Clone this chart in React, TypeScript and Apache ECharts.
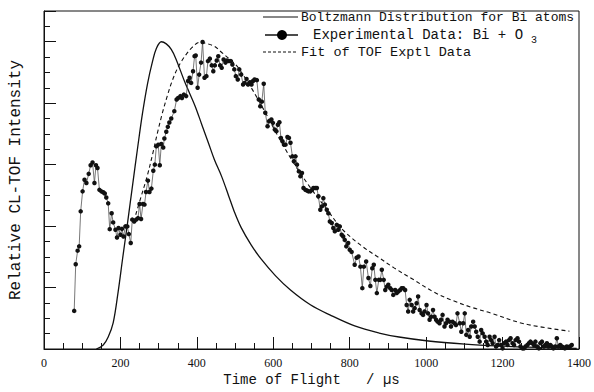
import React, { useEffect, useRef } from "react";
import * as echarts from "echarts";

// ---- data ----
const xTickLabels = ["0", "200", "400", "600", "800", "1000", "1200", "1400"];

const legendLabels = [
  "Boltzmann Distribution for Bi atoms",
  "Experimental Data: Bi + O",
  "Fit of TOF Exptl Data",
];
const legendSub = "3";
const xTitle = "Time of Flight   / µs";
const yTitle = "Relative CL-TOF Intensity";

const expTime = [
  79, 83, 88, 92, 96, 101, 106, 111, 117, 122, 127, 132, 136, 140, 145, 150, 155, 159, 163, 168,
  172, 177, 181, 187, 191, 195, 200, 204, 208, 213, 218, 222, 227, 231, 236, 241, 246, 250, 254, 259,
  263, 267, 272, 276, 281, 286, 290, 294, 299, 303, 307, 312, 315, 320, 324, 328, 333,
  341, 347, 351, 357, 361, 366, 372, 377, 381, 385, 390, 394, 397, 402, 406, 411, 415, 420, 425, 429,
  434, 439, 443, 447, 452, 456, 461, 465, 470, 475, 479, 484, 489, 493, 498, 502, 507, 511, 516, 521,
  525, 530, 534, 539, 543, 547, 551, 557, 562, 566, 570, 575, 579,
  585, 589, 595, 599, 604, 608, 612, 616, 620, 624, 628, 632, 637, 641, 645, 650, 654, 658, 662, 667,
  671, 675, 679, 684, 688, 692, 697, 701, 705, 710, 714, 718, 723, 727, 731, 735, 740, 744, 748, 753,
  757, 761, 766, 770, 774, 779, 783, 787, 791, 796, 800, 805,
  813, 818, 823, 828, 833, 837, 843, 849, 854, 859, 863, 867, 871, 876, 880, 884, 889, 893, 897, 901,
  906, 910, 914, 919, 923, 927, 932, 936, 940, 945, 949, 953, 957, 962, 966, 970, 975, 979, 983, 988,
  992, 996, 1001, 1005, 1009, 1013, 1018, 1022, 1026, 1030, 1035, 1039, 1043, 1048, 1052, 1056, 1061,
  1065, 1069, 1074, 1078, 1082,
  1088, 1092, 1097, 1101, 1105, 1110, 1114, 1118, 1123, 1127, 1131, 1135, 1140, 1144, 1148, 1153, 1157,
  1161, 1166, 1170, 1174, 1179, 1183, 1187, 1191, 1196, 1200, 1204, 1209, 1213, 1217, 1221, 1226, 1230,
  1234, 1239, 1243, 1247, 1252, 1256, 1260, 1265, 1269, 1273, 1277, 1282, 1286, 1290, 1295, 1299, 1303,
  1308, 1312, 1316, 1320, 1325, 1329, 1333, 1338, 1342, 1346, 1351, 1355, 1359, 1363, 1368, 1372, 1376,
  1381,
];

const expSignal = [
  0.124, 0.276, 0.32, 0.334, 0.448, 0.513, 0.551, 0.54, 0.57, 0.598, 0.607, 0.54, 0.598, 0.589, 0.518,
  0.513, 0.51, 0.506, 0.493, 0.474, 0.39, 0.442, 0.412, 0.388, 0.363, 0.394, 0.372, 0.391, 0.366, 0.399,
  0.399, 0.374, 0.345, 0.421, 0.415, 0.421, 0.426, 0.472, 0.423, 0.472, 0.47, 0.511, 0.548, 0.511, 0.522,
  0.58, 0.6, 0.66, 0.665, 0.598, 0.667, 0.656, 0.685, 0.707, 0.723, 0.737, 0.75,
  0.774, 0.812, 0.817, 0.823, 0.817, 0.828, 0.823, 0.872, 0.883, 0.866, 0.904, 0.953, 0.955, 0.85, 0.893,
  0.932, 0.999, 0.883, 0.888, 0.937, 0.945, 0.923, 0.904, 0.923, 0.939, 0.953, 0.923, 0.915, 0.942, 0.932,
  0.939, 0.937, 0.937, 0.926, 0.91, 0.888, 0.877, 0.91, 0.893, 0.861, 0.866, 0.879, 0.861, 0.868, 0.861,
  0.872, 0.877, 0.875, 0.812, 0.79, 0.805, 0.863, 0.769,
  0.725, 0.741, 0.747, 0.736, 0.714, 0.709, 0.73, 0.738, 0.687, 0.676, 0.665, 0.665, 0.69, 0.687, 0.671,
  0.627, 0.611, 0.627, 0.6, 0.578, 0.562, 0.573, 0.524, 0.518, 0.516, 0.513, 0.513, 0.518, 0.524, 0.524,
  0.524, 0.497, 0.453, 0.464, 0.491, 0.47, 0.453, 0.442, 0.415, 0.41, 0.394, 0.383, 0.404, 0.388, 0.399,
  0.372, 0.366, 0.355, 0.334, 0.345, 0.323, 0.316,
  0.274, 0.297, 0.301, 0.268, 0.198, 0.268, 0.285, 0.231, 0.205, 0.263, 0.274, 0.225, 0.182, 0.225, 0.225,
  0.258, 0.225, 0.192, 0.203, 0.209, 0.198, 0.192, 0.176, 0.192, 0.182, 0.187, 0.192, 0.198, 0.198, 0.192,
  0.143, 0.122, 0.16, 0.143, 0.122, 0.133, 0.149, 0.171, 0.127, 0.116, 0.111, 0.122, 0.143, 0.116, 0.095,
  0.105, 0.127, 0.105, 0.095, 0.089, 0.084, 0.095, 0.111, 0.073, 0.084, 0.095, 0.089, 0.073, 0.089, 0.084,
  0.078, 0.116,
  0.084, 0.056, 0.084, 0.116, 0.046, 0.062, 0.04, 0.073, 0.089, 0.073, 0.056, 0.04, 0.024, 0.062, 0.051,
  0.04, 0.024, 0.013, 0.04, 0.029, 0.019, 0.04, 0.008, 0.013, 0.029, 0.013, 0.002, 0.019, 0.024, 0.013,
  0.029, 0.035, 0.019, 0.013, 0.029, 0.035, 0.024, 0.008, 0.002, 0.002, 0.008, 0.013, 0.019, 0.024, 0.019,
  0.013, 0.024, 0.008, 0.002, 0.019, 0.024, 0.008, 0.013, 0.019, 0.008, 0.013, 0.008, 0.002, 0.008, 0.035,
  0.008, 0.013, 0.008, 0.006, 0.002, 0.008, 0.006, 0.008, 0.013,
];

const boltzTime = [
  137, 155, 168, 181, 194, 206, 219, 232, 245, 258, 271, 284, 294, 307, 320, 333, 345, 369, 395, 413,
  431, 446, 465, 483, 498, 516, 542, 568, 606, 645, 697, 748, 813, 877, 929, 1006, 1102, 1187, 1290, 1394,
];
const boltzSignal = [
  0, 0.013, 0.039, 0.085, 0.186, 0.297, 0.414, 0.535, 0.655, 0.769, 0.864, 0.936, 0.978, 1.0, 0.993,
  0.975, 0.945, 0.867, 0.792, 0.73, 0.668, 0.616, 0.561, 0.499, 0.447, 0.395, 0.339, 0.293, 0.238,
  0.192, 0.144, 0.111, 0.075, 0.052, 0.039, 0.026, 0.016, 0.01, 0.005, 0.002,
];

const fitTime = [
  240, 258, 271, 284, 297, 310, 323, 335, 348, 361, 374, 387, 408, 426, 446, 465, 490, 508, 542, 575,
  612, 653, 697, 741, 782, 834, 877, 916, 968, 1019, 1071, 1123, 1169, 1257, 1375,
];
const fitSignal = [
  0.437, 0.512, 0.567, 0.633, 0.704, 0.769, 0.825, 0.871, 0.91, 0.939, 0.962, 0.981, 0.998, 0.994,
  0.985, 0.965, 0.939, 0.916, 0.851, 0.779, 0.694, 0.606, 0.525, 0.453, 0.388, 0.333, 0.297, 0.264,
  0.225, 0.186, 0.157, 0.134, 0.117, 0.082, 0.058,
];

const zip = (a: number[], b: number[]) => a.map((t, i) => [t, b[i]]);

export default function App() {
  const ref = useRef<HTMLDivElement>(null);

  useEffect(() => {
    if (!ref.current) return;
    const chart = echarts.init(ref.current, null, { renderer: "svg" });
    const ink = "#111";
    const mono = "'Liberation Mono', 'DejaVu Sans Mono', monospace";
    const serif = "'Liberation Serif', 'DejaVu Serif', serif";

    chart.setOption({
      animation: false,
      backgroundColor: "#ffffff",
      grid: {
        left: 40,
        right: 13,
        top: 11,
        bottom: 43,
        show: true,
        borderColor: ink,
        borderWidth: 1,
        backgroundColor: "transparent",
      },
      xAxis: [
        {
          type: "value",
          position: "bottom",
          min: 0,
          max: 1400,
          interval: 50,
          axisLine: { show: true, lineStyle: { color: ink, width: 1 } },
          axisTick: { show: true, inside: true, length: 6, lineStyle: { color: ink, width: 1 } },
          axisLabel: { show: false },
          splitLine: { show: false },
          name: xTitle,
          nameLocation: "middle",
          nameGap: 24,
          nameTextStyle: { fontFamily: mono, fontSize: 14, color: ink },
        },
        {
          type: "value",
          position: "bottom",
          min: 0,
          max: 1400,
          interval: 200,
          axisLine: { show: false },
          axisTick: { show: true, inside: true, length: 12, lineStyle: { color: ink, width: 1 } },
          axisLabel: {
            show: true,
            margin: 8,
            fontFamily: serif,
            fontSize: 12,
            color: ink,
            formatter: (v: number) => xTickLabels[Math.round(v / 200)] ?? "",
          },
          splitLine: { show: false },
        },
      ],
      yAxis: [
        {
          type: "value",
          position: "left",
          min: 0,
          max: 1.1,
          interval: 0.05,
          axisLine: { show: true, lineStyle: { color: ink, width: 1 } },
          axisTick: { show: true, inside: true, length: 6, lineStyle: { color: ink, width: 1 } },
          axisLabel: { show: false },
          splitLine: { show: false },
          name: yTitle,
          nameLocation: "middle",
          nameGap: 20,
          nameRotate: 90,
          nameTextStyle: { fontFamily: mono, fontSize: 16, color: ink },
        },
        {
          type: "value",
          position: "left",
          min: 0,
          max: 1.1,
          interval: 0.2,
          axisLine: { show: false },
          axisTick: { show: true, inside: true, length: 12, lineStyle: { color: ink, width: 1 } },
          axisLabel: { show: false },
          splitLine: { show: false },
        },
      ],
      series: [
        {
          name: legendLabels[0],
          type: "line",
          data: zip(boltzTime, boltzSignal),
          xAxisIndex: 0,
          yAxisIndex: 0,
          showSymbol: false,
          smooth: 0.35,
          lineStyle: { color: ink, width: 1.3 },
          z: 3,
        },
        {
          name: legendLabels[2],
          type: "line",
          data: zip(fitTime, fitSignal),
          xAxisIndex: 0,
          yAxisIndex: 0,
          showSymbol: false,
          smooth: 0.35,
          lineStyle: { color: ink, width: 1.1, type: [4, 3] },
          z: 3,
        },
        {
          name: legendLabels[1],
          type: "line",
          data: zip(expTime, expSignal),
          xAxisIndex: 0,
          yAxisIndex: 0,
          symbol: "circle",
          symbolSize: 4.5,
          showAllSymbol: true,
          itemStyle: { color: "#111" },
          lineStyle: { color: "#555", width: 0.8 },
          z: 4,
        },
      ],
      graphic: [
        { type: "line", shape: { x1: 263, y1: 17, x2: 298, y2: 17 }, style: { stroke: ink, lineWidth: 1.2 } },
        {
          type: "text",
          x: 301,
          y: 17,
          style: { text: legendLabels[0], font: `13px ${mono}`, fill: ink, verticalAlign: "middle" },
        },
        { type: "line", shape: { x1: 265, y1: 35, x2: 298, y2: 35 }, style: { stroke: ink, lineWidth: 1.6 } },
        { type: "circle", shape: { cx: 282, cy: 35, r: 5 }, style: { fill: "#000" } },
        {
          type: "text",
          x: 313,
          y: 35,
          style: { text: legendLabels[1], font: `14px ${mono}`, fill: ink, verticalAlign: "middle" },
        },
        {
          type: "text",
          x: 531,
          y: 40,
          style: { text: legendSub, font: `10px ${mono}`, fill: ink, verticalAlign: "middle" },
        },
        {
          type: "line",
          shape: { x1: 263, y1: 52, x2: 298, y2: 52 },
          style: { stroke: ink, lineWidth: 1.1, lineDash: [3, 2] },
        },
        {
          type: "text",
          x: 301,
          y: 52,
          style: { text: legendLabels[2], font: `13.5px ${mono}`, fill: ink, verticalAlign: "middle" },
        },
      ],
    });

    return () => chart.dispose();
  }, []);

  return <div ref={ref} style={{ width: 594, height: 392, position: "absolute", left: 0, top: 0 }} />;
}
